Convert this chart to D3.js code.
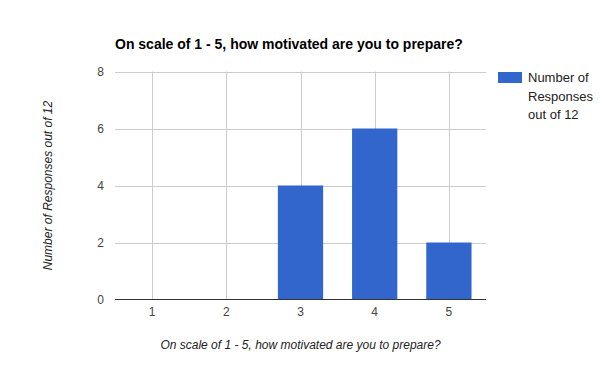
<!DOCTYPE html>
<html>
<head>
<meta charset="utf-8">
<script src="https://cdn.jsdelivr.net/npm/d3@7"></script>
<style>
  body { margin: 0; background: #fff; }
  text { font-family: Arial, "Liberation Sans", sans-serif; }
</style>
</head>
<body>
<svg id="chart" width="600" height="371"></svg>
<script>
// chart data
let categories = ["1", "2", "3", "4", "5"];
let responses = [0, 0, 4, 6, 2];
let yTicks = [0, 2, 4, 6, 8];
let seriesName = ["Number of", "Responses", "out of 12"];
let title = "On scale of 1 - 5, how motivated are you to prepare?";
let xTitle = "On scale of 1 - 5, how motivated are you to prepare?";
let yTitle = "Number of Responses out of 12";

let svg = d3.select("#chart");
// plot area edges
let plotLeft = 115, plotRight = 486, plotTop = 71.5, plotBottom = 299.5;

let xScale = d3.scaleBand()
  .domain(categories)
  .range([plotLeft, plotRight]);
let yScale = d3.scaleLinear()
  .domain([0, 8])
  .range([plotBottom, plotTop]);

let barWidth = xScale.bandwidth() * 0.61;

// horizontal gridlines
svg.append("g")
  .selectAll("line")
  .data(yTicks.filter(d => d > 0))
  .enter().append("line")
  .attr("x1", plotLeft).attr("x2", plotRight)
  .attr("y1", d => Math.round(yScale(d)) + 0.5)
  .attr("y2", d => Math.round(yScale(d)) + 0.5)
  .attr("stroke", "#cccccc");

// vertical gridlines through category centres
svg.append("g")
  .selectAll("line")
  .data(categories)
  .enter().append("line")
  .attr("x1", d => Math.round(xScale(d) + xScale.bandwidth() / 2) + 0.5)
  .attr("x2", d => Math.round(xScale(d) + xScale.bandwidth() / 2) + 0.5)
  .attr("y1", plotTop).attr("y2", plotBottom)
  .attr("stroke", "#cccccc");

// bars
svg.append("g")
  .selectAll("rect")
  .data(responses)
  .enter().append("rect")
  .attr("x", (d, i) => xScale(categories[i]) + (xScale.bandwidth() - barWidth) / 2)
  .attr("width", barWidth)
  .attr("y", d => yScale(d))
  .attr("height", d => plotBottom - yScale(d))
  .attr("fill", "#3366cc");

// baseline
svg.append("line")
  .attr("x1", plotLeft).attr("x2", plotRight)
  .attr("y1", plotBottom).attr("y2", plotBottom)
  .attr("stroke", "#333333");

// y axis tick labels
let yAxis = d3.axisLeft(yScale).tickValues(yTicks).tickSize(0).tickPadding(0);
let gY = svg.append("g")
  .attr("transform", `translate(${plotLeft - 11}, 0)`)
  .call(yAxis);
gY.select(".domain").remove();
gY.selectAll("text")
  .attr("fill", "#444444")
  .style("font-size", "12px")
  .style("font-family", "Arial, 'Liberation Sans', sans-serif");

// x axis tick labels
let xAxis = d3.axisBottom(xScale).tickSize(0).tickPadding(0);
let gX = svg.append("g")
  .attr("transform", `translate(0, ${plotBottom + 8})`)
  .call(xAxis);
gX.select(".domain").remove();
gX.selectAll("text")
  .attr("fill", "#444444")
  .style("font-size", "12px")
  .style("font-family", "Arial, 'Liberation Sans', sans-serif");

// title
svg.append("text")
  .attr("x", plotLeft)
  .attr("y", 49)
  .attr("fill", "#000000")
  .style("font-size", "14px")
  .style("font-weight", "bold")
  .text(title);

// axis titles
svg.append("text")
  .attr("x", (plotLeft + plotRight) / 2)
  .attr("y", 349)
  .attr("text-anchor", "middle")
  .attr("fill", "#222222")
  .style("font-size", "12px")
  .style("font-style", "italic")
  .text(xTitle);

svg.append("text")
  .attr("transform", `translate(52, ${(plotTop + plotBottom) / 2}) rotate(-90)`)
  .attr("text-anchor", "middle")
  .attr("fill", "#222222")
  .style("font-size", "12px")
  .style("font-style", "italic")
  .text(yTitle);

// legend
svg.append("rect")
  .attr("x", 498).attr("y", 72)
  .attr("width", 24).attr("height", 11)
  .attr("fill", "#3366cc");
svg.append("g")
  .selectAll("text")
  .data(seriesName)
  .enter().append("text")
  .attr("x", 528)
  .attr("y", (d, i) => 82 + i * 18.5)
  .attr("fill", "#222222")
  .style("font-size", "13px")
  .text(d => d);
</script>
</body>
</html>
